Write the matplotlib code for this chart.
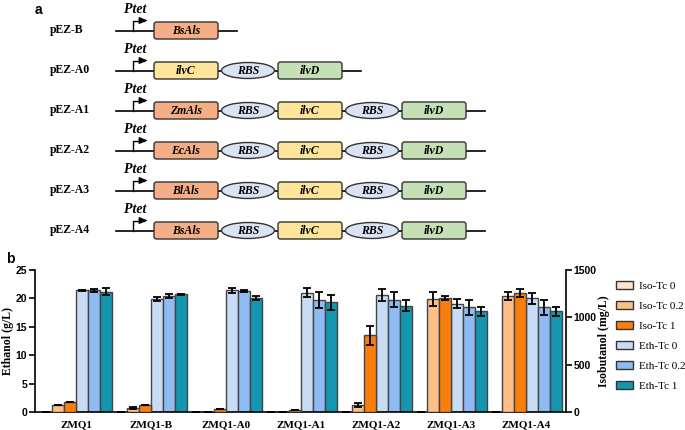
import numpy as np
import matplotlib
matplotlib.use('Agg')
import matplotlib.pyplot as plt
from matplotlib.patches import FancyBboxPatch, Ellipse, Patch

#%% data
strains = ['ZMQ1', 'ZMQ1-B', 'ZMQ1-A0', 'ZMQ1-A1', 'ZMQ1-A2', 'ZMQ1-A3', 'ZMQ1-A4']
# isobutanol (mg/L)
iso_tc0 = [0, 0, 0, 0, 0, 0, 0]
iso_tc0_err = [0, 0, 0, 0, 0, 0, 0]
iso_tc02 = [71, 42, 5, 0, 75, 1190, 1225]
iso_tc02_err = [0, 15, 0, 0, 25, 75, 45]
iso_tc1 = [102, 72, 32, 22, 810, 1205, 1255]
iso_tc1_err = [0, 0, 4, 4, 100, 25, 45]
# ethanol (g/L)
eth_tc0 = [21.4, 19.9, 21.4, 21.0, 20.6, 19.1, 20.0]
eth_tc0_err = [0.1, 0.3, 0.4, 0.8, 1.0, 0.75, 0.9]
eth_tc02 = [21.4, 20.4, 21.3, 19.7, 19.8, 18.4, 18.4]
eth_tc02_err = [0.2, 0.3, 0.1, 1.4, 1.4, 1.25, 1.35]
eth_tc1 = [21.2, 20.7, 20.1, 19.3, 18.75, 17.7, 17.7]
eth_tc1_err = [0.6, 0.1, 0.3, 1.3, 1.0, 0.85, 0.85]

series_labels = ['Iso-Tc 0', 'Iso-Tc 0.2', 'Iso-Tc 1', 'Eth-Tc 0', 'Eth-Tc 0.2', 'Eth-Tc 1']
series_colors = ['#FCE4CF', '#FDBF86', '#FA7E0C', '#C8DCF5', '#8FBBF3', '#1496AE']

# plasmid constructs for panel a
constructs = ['pEZ-B', 'pEZ-A0', 'pEZ-A1', 'pEZ-A2', 'pEZ-A3', 'pEZ-A4']
parts = [['BsAls'],
         ['ilvC', 'RBS', 'ilvD'],
         ['ZmAls', 'RBS', 'ilvC', 'RBS', 'ilvD'],
         ['EcAls', 'RBS', 'ilvC', 'RBS', 'ilvD'],
         ['BlAls', 'RBS', 'ilvC', 'RBS', 'ilvD'],
         ['BsAls', 'RBS', 'ilvC', 'RBS', 'ilvD']]
part_colors = {'Als': '#F4AE85', 'ilvC': '#FFE599', 'ilvD': '#C6E0B5', 'RBS': '#DAE3F3'}

serif = 'Liberation Serif'
sans = 'Liberation Sans'
W, H = 685, 430
fig = plt.figure(figsize=(W/100, H/100), dpi=100)

#%% panel a (pixel coordinates)
axa = fig.add_axes([0, 0, 1, 1])
axa.set_xlim(0, W)
axa.set_ylim(H, 0)
axa.axis('off')
axa.text(38, 10, 'a', fontsize=10, fontweight='bold', family=sans, ha='center', va='center')
edge = '#333333'
for i, (name, pl) in enumerate(zip(constructs, parts)):
    y = 30.5 + 40*i
    axa.text(50, y - 1, name, fontsize=8.5, fontweight='bold', family=serif, ha='left', va='center')
    axa.text(135.5, y - 21, 'Ptet', fontsize=10, fontweight='bold', style='italic', family=serif,
             ha='center', va='center')
    # promoter arrow
    axa.plot([133, 133, 144], [y, y - 10, y - 10], color='black', lw=1)
    axa.annotate('', xy=(150, y - 10), xytext=(142, y - 10),
                 arrowprops=dict(arrowstyle='-|>,head_length=0.45,head_width=0.2', color='black', lw=1))
    x = 154
    for p in pl:
        w = 53 if p == 'RBS' else 64
        key = 'Als' if 'Als' in p else p
        if p == 'RBS':
            axa.add_patch(Ellipse((x + w/2, y), w, 16, fc=part_colors[key], ec=edge, lw=1, zorder=3))
        else:
            axa.add_patch(FancyBboxPatch((x + 2, y - 6.5), w - 4, 13, boxstyle='round,pad=2,rounding_size=2.5',
                                         fc=part_colors[key], ec=edge, lw=1, zorder=3))
        axa.text(x + w/2, y, p, fontsize=8.5, fontweight='bold', style='italic', family=serif,
                 ha='center', va='center', zorder=4)
        x += w + 3.5
    axa.plot([116, x + 16], [y, y], color='black', lw=1.2, zorder=1)

#%% panel b
ax = fig.add_axes([35/W, 1 - 412/H, (566 - 35)/W, (412 - 270)/H])
ax2 = ax.twinx()
xg = np.arange(len(strains))
bw = 0.16
iso = [(iso_tc0, iso_tc0_err), (iso_tc02, iso_tc02_err), (iso_tc1, iso_tc1_err)]
eth = [(eth_tc0, eth_tc0_err), (eth_tc02, eth_tc02_err), (eth_tc1, eth_tc1_err)]
ekw = dict(ecolor='black', elinewidth=1.3, capsize=3, capthick=1.3)
handles = []
for k, (v, e) in enumerate(iso):
    ax2.bar(xg + (k - 2.5)*bw, v, bw, yerr=e, color=series_colors[k], edgecolor='#444444', lw=1,
            error_kw=ekw)
for k, (v, e) in enumerate(eth):
    ax.bar(xg + (k + 0.5)*bw, v, bw, yerr=e, color=series_colors[k + 3], edgecolor='#444444', lw=1,
           error_kw=ekw)
for k in range(6):
    handles.append(Patch(fc=series_colors[k], ec='#333333', lw=1, label=series_labels[k]))

ax.set_xlim(-41/75, 6 + 40/75)
ax.set_ylim(0, 25)
ax2.set_ylim(0, 1500)
ax.set_yticks([0, 5, 10, 15, 20, 25])
ax2.set_yticks([0, 500, 1000, 1500])
ax.set_xticks(xg)
ax.set_xticklabels(strains, family=serif, fontweight='bold', fontsize=8)
ax.tick_params(axis='x', length=0, pad=6)
for a in (ax, ax2):
    a.tick_params(axis='y', direction='out', length=4, width=1.2, labelsize=7.5, pad=1.5)
    for lab in a.get_yticklabels():
        lab.set_fontweight('bold')
        lab.set_family(sans)
for s in ['top', 'right']:
    ax.spines[s].set_visible(False)
for s in ['top', 'left', 'bottom']:
    ax2.spines[s].set_visible(False)
ax.spines['left'].set_linewidth(1.2)
ax.spines['bottom'].set_linewidth(1.2)
ax2.spines['right'].set_linewidth(1.2)
ax.set_ylabel('Ethanol (g/L)', family=serif, fontweight='bold', fontsize=8.5, labelpad=1)
ax2.set_ylabel('Isobutanol (mg/L)', family=serif, fontweight='bold', fontsize=8.5, rotation=90, labelpad=1)
fig.text(10/W, 1 - 259/H, 'b', fontsize=10, fontweight='bold', family=sans, ha='center', va='center')

leg = fig.legend(handles=handles, loc='upper left', bbox_to_anchor=(612/W, 1 - 277/H), frameon=False,
                 prop={'family': serif, 'size': 8}, handlelength=1.45, handleheight=0.6,
                 labelspacing=0.95, handletextpad=0.55, borderaxespad=0)

fig.savefig('out.png', dpi=100)
